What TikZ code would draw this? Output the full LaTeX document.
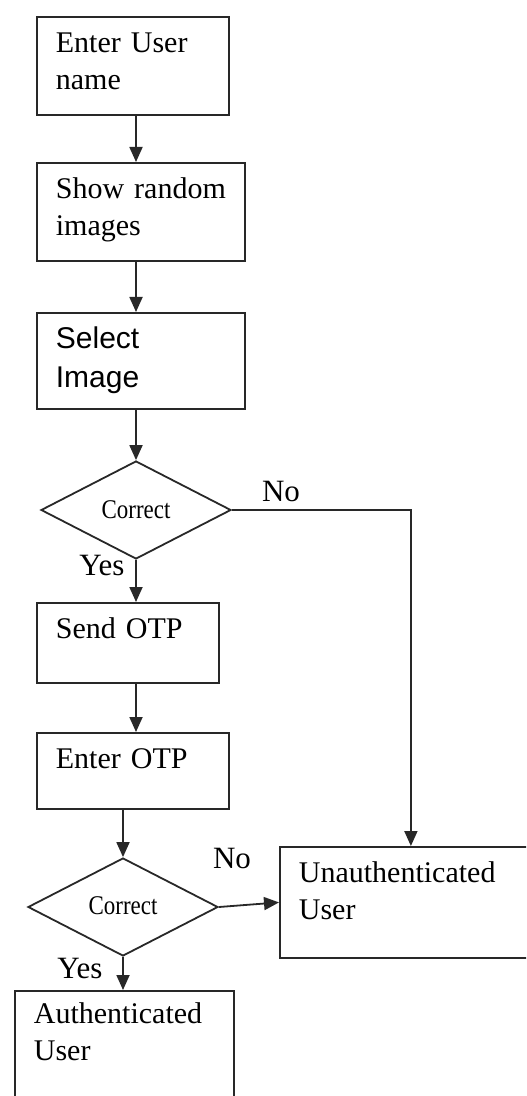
\documentclass[tikz,border=0pt]{standalone}
\usepackage{fontspec}
\setmainfont{Liberation Serif}
\newfontfamily\arialfont{Liberation Sans}
\usepackage{graphicx}
\usetikzlibrary{arrows.meta, positioning, shapes.geometric}
\definecolor{FlowLine}{RGB}{40, 40, 40}

\begin{document}
\begin{tikzpicture}[x=0.5pt, y=-0.5pt,
    >={Triangle[length=7.5pt, width=6.5pt]},
    procbox/.style={draw=FlowLine, line width=0.9pt, rectangle, anchor=north west,
        inner xsep=9.5pt, inner ysep=5pt, text height=13pt, align=left,
        font=\fontsize{15}{18.5}\selectfont},
    decision/.style={draw=FlowLine, line width=0.9pt, diamond, minimum width=95pt,
        minimum height=49pt, inner sep=0pt, font=\fontsize{13.5}{16}\selectfont},
    flow/.style={draw=FlowLine, line width=0.9pt, ->},
    answer/.style={anchor=base, inner sep=0pt, font=\fontsize{15.5}{18}\selectfont}]
    \useasboundingbox (0,0) rectangle (526,1096);
    \clip (0,0) rectangle (526,1096);

    % main column
    \node[procbox, text width=77pt, text depth=26pt] (user) at (36,16) {Enter User\\name};
    \node[procbox, text width=85pt, text depth=26pt] (images) at (36,162) {Show random\\images};
    \node[procbox, text width=85pt, text depth=25pt, font=\arialfont\fontsize{15}{19.5}\selectfont] (select) at (36,312) {Select\\Image};
    \node[decision] (check1) at (136,510) {\scalebox{0.85}[1]{Correct}};
    \node[procbox, text width=72pt, text depth=17pt] (sendotp) at (36,602) {Send OTP};
    \node[procbox, text width=77pt, text depth=15pt] (enterotp) at (36,732) {Enter OTP};
    \node[decision] (check2) at (123,907) {\raisebox{1pt}{\scalebox{0.85}[1]{Correct}}};
    \node[procbox, text width=90.5pt, text height=11.5pt, text depth=50pt] (auth) at (14,990) {Authenticated\\User};

    % failure branch
    \node[procbox, text width=112pt, text depth=32.5pt] (unauth) at (279,846) {Unauthenticated\\User};

    \draw[flow] (user.south -| check1.north) -- (images.north -| check1.north);
    \draw[flow] (images.south -| check1.north) -- (select.north -| check1.north);
    \draw[flow] (select.south -| check1.north) -- (check1.north);
    \draw[flow] (check1.south) -- (sendotp.north -| check1.south);
    \draw[flow] (check1.east) -| (unauth.north);
    \draw[flow] (sendotp.south -| check1.south) -- (enterotp.north -| check1.south);
    \draw[flow] (enterotp.south -| check2.north) -- (check2.north);
    \draw[flow] (check2.east) -- (unauth.west);
    \draw[flow] (check2.south) -- (auth.north -| check2.south);

    \node[answer] (yes1) at (102,575) {Yes};
    \node[answer] (no1) at (281,501) {No};
    \node[answer] (no2) at (232,868) {No};
    \node[answer] (yes2) at (80,978) {Yes};
\end{tikzpicture}
\end{document}
